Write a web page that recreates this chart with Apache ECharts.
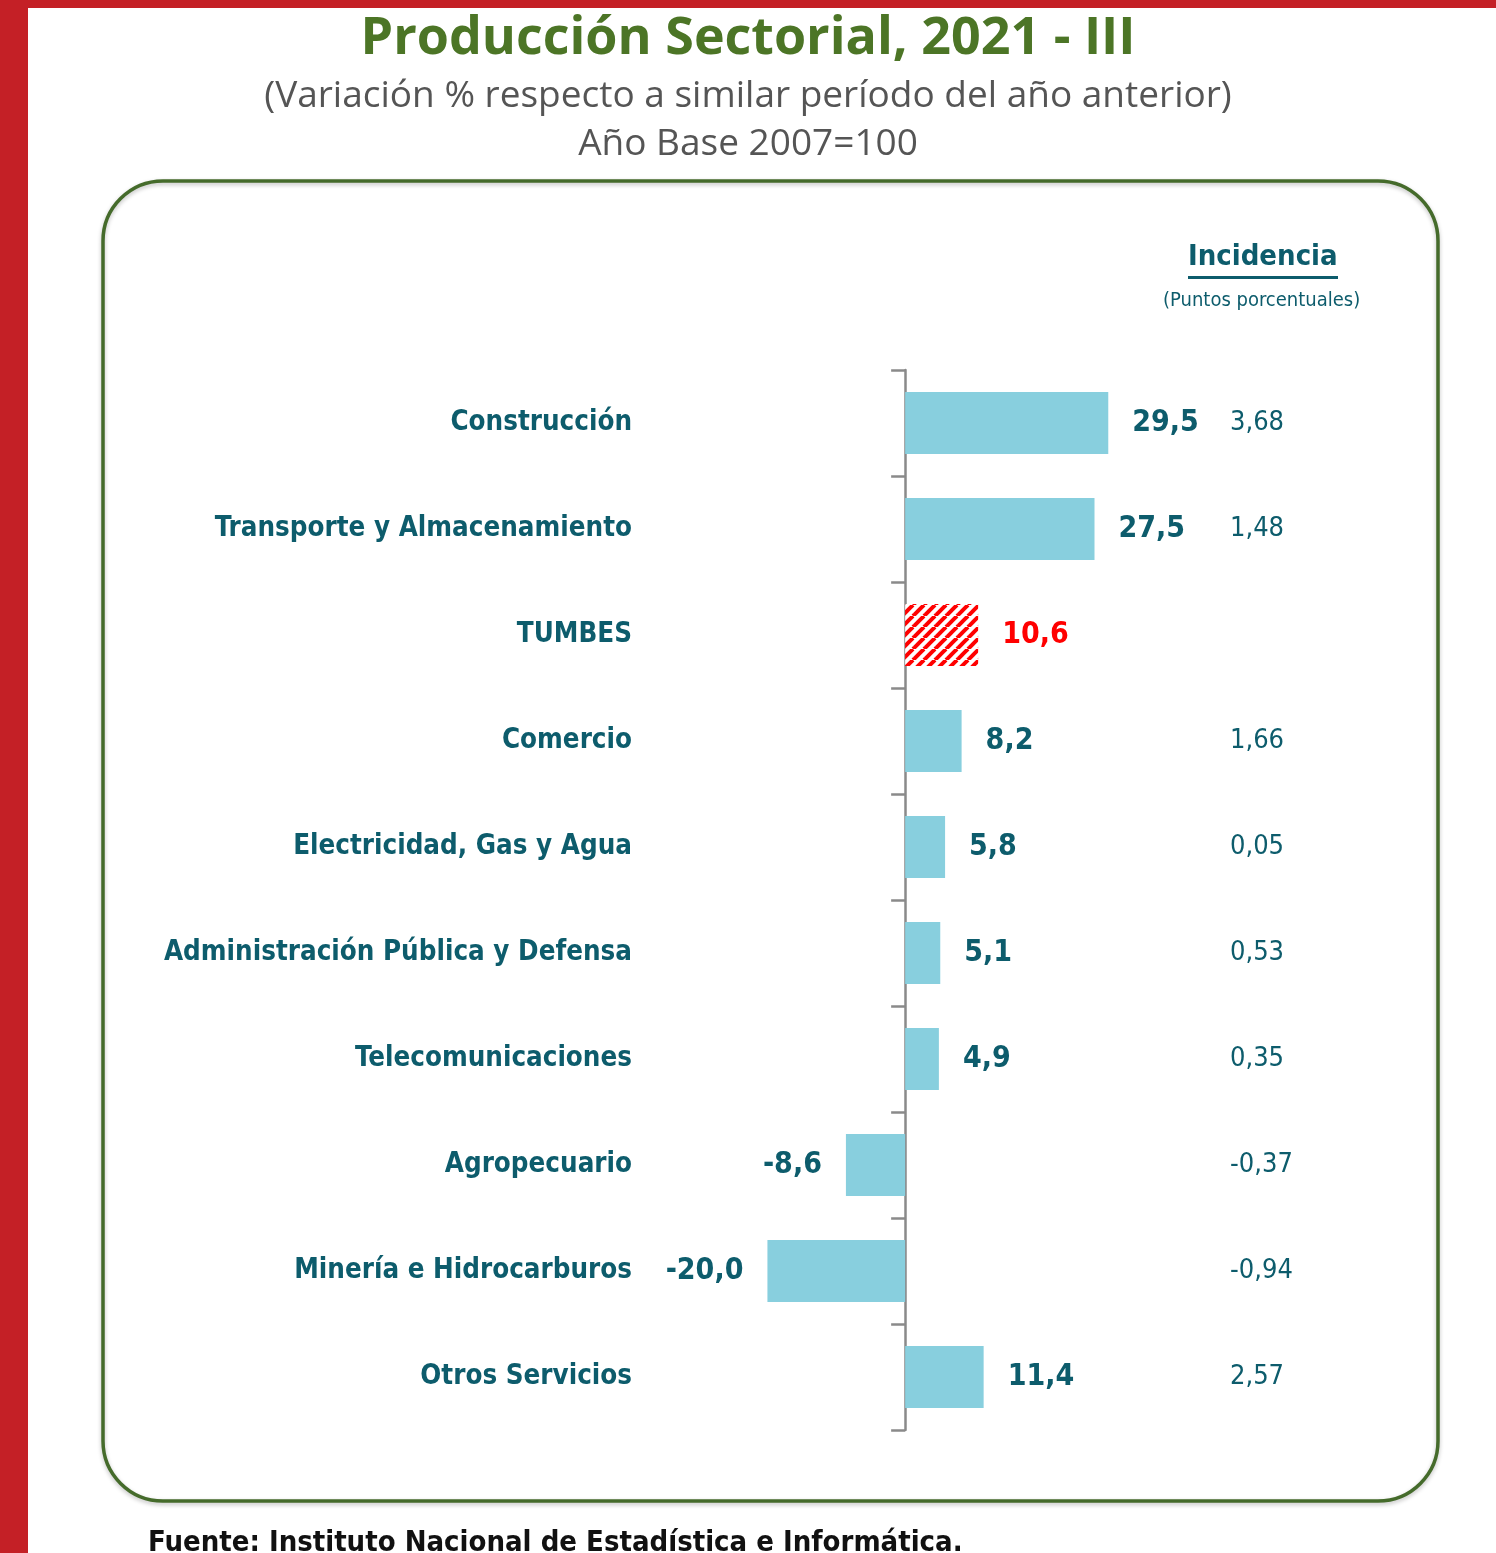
<!DOCTYPE html>
<html>
<head>
<meta charset="utf-8">
<script src="https://cdn.jsdelivr.net/npm/echarts@6/dist/echarts.min.js"></script>
<style>
  html, body { margin: 0; padding: 0; background: #fff; }
  #chart { width: 1496px; height: 1553px; }
</style>
</head>
<body>
<div id="chart"></div>
<script>
// datos del gráfico
var categorias = [
  "Construcción",
  "Transporte y Almacenamiento",
  "TUMBES",
  "Comercio",
  "Electricidad, Gas y Agua",
  "Administración Pública y Defensa",
  "Telecomunicaciones",
  "Agropecuario",
  "Minería e Hidrocarburos",
  "Otros Servicios"
];
var variacion = [29.5, 27.5, 10.6, 8.2, 5.8, 5.1, 4.9, -8.6, -20.0, 11.4];
var incidencia = ["3,68", "1,48", "", "1,66", "0,05", "0,53", "0,35", "-0,37", "-0,94", "2,57"];
var regionDestacada = "TUMBES";

var TEAL = "#0d5c6c";
var BAR = "#88cfde";
var NARROW = "'DejaVu Sans Condensed', 'Liberation Sans Narrow', sans-serif";

// patrón rayado rojo para la barra de la región
function rayado() {
  var s = 11;
  var c = document.createElement("canvas");
  c.width = s; c.height = s;
  var ctx = c.getContext("2d");
  ctx.fillStyle = "#fff";
  ctx.fillRect(0, 0, s, s);
  ctx.strokeStyle = "#ff0000";
  ctx.lineWidth = 4;
  for (var x = -s; x <= s; x += s) {
    ctx.beginPath();
    ctx.moveTo(x, s);
    ctx.lineTo(x + s, 0);
    ctx.stroke();
  }
  return c;
}

var fmt = function (v) { return v.toFixed(1).replace(".", ","); };

var barData = variacion.map(function (v, i) {
  var item = {
    value: v,
    label: { position: v < 0 ? "left" : "right" }
  };
  if (categorias[i] === regionDestacada) {
    item.itemStyle = { color: { image: rayado(), repeat: "repeat" } };
    item.label.color = "#ff0000";
  }
  return item;
});

var myChart = echarts.init(document.getElementById("chart"));
var option = {
  backgroundColor: "#ffffff",
  animation: false,
  title: [
    {
      text: "Producción Sectorial, 2021 - III",
      left: "center", top: 8,
      textStyle: { fontFamily: "'Open Sans', sans-serif", fontWeight: "bold", fontSize: 52, color: "#4c7526" }
    },
    {
      text: "(Variación % respecto a similar período del año anterior)",
      left: "center", top: 73,
      textStyle: { fontFamily: "'Open Sans', sans-serif", fontWeight: "normal", fontSize: 37, color: "#555555" }
    },
    {
      text: "Año Base 2007=100",
      left: "center", top: 121,
      textStyle: { fontFamily: "'Open Sans', sans-serif", fontWeight: "normal", fontSize: 37, color: "#555555" }
    }
  ],
  graphic: [
    { type: "rect", shape: { x: 0, y: 0, width: 28, height: 1553 }, style: { fill: "#c42026" } },
    { type: "rect", shape: { x: 0, y: 0, width: 1496, height: 8 }, style: { fill: "#c42026" } },
    {
      type: "rect",
      shape: { x: 103, y: 181, width: 1335, height: 1320, r: 60 },
      style: { fill: "none", stroke: "#456b2b", lineWidth: 3.5, shadowBlur: 4, shadowOffsetY: 2, shadowColor: "rgba(0,0,0,0.25)" }
    },
    {
      type: "text", left: 1188, top: 243,
      style: { text: "Incidencia", fill: TEAL, font: "bold 29px " + NARROW }
    },
    { type: "rect", shape: { x: 1188, y: 276, width: 150, height: 3 }, style: { fill: TEAL } },
    {
      type: "text", left: 1163, top: 291,
      style: { text: "(Puntos porcentuales)", fill: TEAL, font: "20px " + NARROW }
    },
    {
      type: "text", left: 148, top: 1529,
      style: { text: "Fuente: Instituto Nacional de Estadística e Informática.", fill: "#111", font: "bold 29px " + NARROW }
    }
  ],
  grid: { left: 733, right: 1496 - 1215, top: 370, bottom: 1553 - 1430, containLabel: false, outerBoundsMode: "none" },
  xAxis: {
    type: "value",
    min: -25,
    max: 45,
    show: false
  },
  yAxis: [
    {
      type: "category",
      inverse: true,
      data: categorias,
      axisLine: { onZero: true, lineStyle: { color: "#8a8a8a", width: 2.5 } },
      axisTick: { show: true, length: 14, lineStyle: { color: "#8a8a8a", width: 2.5 } },
      axisLabel: {
        margin: 101,
        color: TEAL,
        fontFamily: NARROW,
        fontWeight: "bold",
        fontSize: 27.5
      }
    },
    {
      type: "category",
      inverse: true,
      position: "right",
      data: incidencia,
      axisLine: { show: false, onZero: false },
      axisTick: { show: false },
      axisLabel: {
        margin: 15,
        align: "left",
        color: TEAL,
        fontFamily: NARROW,
        fontSize: 27
      }
    }
  ],
  series: [
    {
      type: "bar",
      data: barData,
      barWidth: 62,
      itemStyle: { color: BAR },
      label: {
        show: true,
        distance: 24,
        color: TEAL,
        fontFamily: NARROW,
        fontWeight: "bold",
        fontSize: 30,
        formatter: function (p) { return fmt(p.value); }
      }
    }
  ]
};
myChart.setOption(option, true);
</script>
</body>
</html>
